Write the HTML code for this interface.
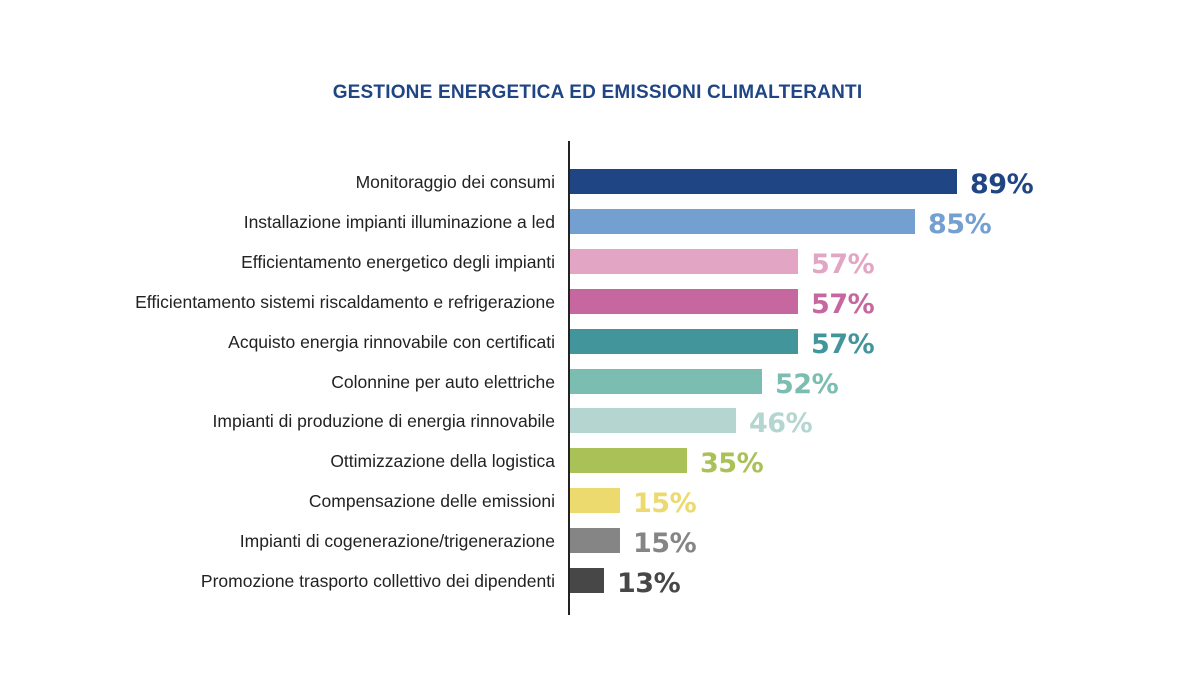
<!DOCTYPE html><html><head><style>
body{margin:0;background:#fff;width:1195px;height:685px;position:relative;overflow:hidden;font-family:"Liberation Sans",sans-serif}
.t{position:absolute;left:0;width:1195px;top:82px;text-align:center;font-weight:bold;font-size:19px;color:#1f4585;letter-spacing:0.2px}
.ax{position:absolute;left:568px;top:141px;width:2px;height:474px;background:#222}
.l{position:absolute;right:640px;font-size:17.5px;color:#222;white-space:nowrap;line-height:25px}
.b{position:absolute;left:570px;height:25px}
.v{position:absolute;font-weight:900;font-size:27px;line-height:25px;letter-spacing:-0.5px;font-family:"DejaVu Sans","Liberation Sans",sans-serif}
</style></head><body>
<div class="t">GESTIONE ENERGETICA ED EMISSIONI CLIMALTERANTI</div>
<div class="ax"></div>
<div id="c"></div>
<script>
var d=[["Monitoraggio dei consumi",957,"#1f4585","89%"],["Installazione impianti illuminazione a led",915,"#73a0d0","85%"],["Efficientamento energetico degli impianti",798,"#e3a5c4","57%"],["Efficientamento sistemi riscaldamento e refrigerazione",798,"#c7679f","57%"],["Acquisto energia rinnovabile con certificati",798,"#43959c","57%"],["Colonnine per auto elettriche",762,"#7bbdb0","52%"],["Impianti di produzione di energia rinnovabile",736,"#b4d5d0","46%"],["Ottimizzazione della logistica",687,"#a9c157","35%"],["Compensazione delle emissioni",620,"#ecda6e","15%"],["Impianti di cogenerazione/trigenerazione",620,"#858585","15%"],["Promozione trasporto collettivo dei dipendenti",604,"#474747","13%"]];
var h="";d.forEach(function(r,i){var y=169+i*39.9;
h+='<div class="l" style="top:'+(y+1)+'px">'+r[0]+'</div><div class="b" style="top:'+y+'px;width:'+(r[1]-570)+'px;background:'+r[2]+'"></div><div class="v" style="top:'+(y+3)+'px;left:'+(r[1]+13)+'px;color:'+r[2]+'">'+r[3]+'</div>';});
document.getElementById("c").innerHTML=h;
</script>
</body></html>
